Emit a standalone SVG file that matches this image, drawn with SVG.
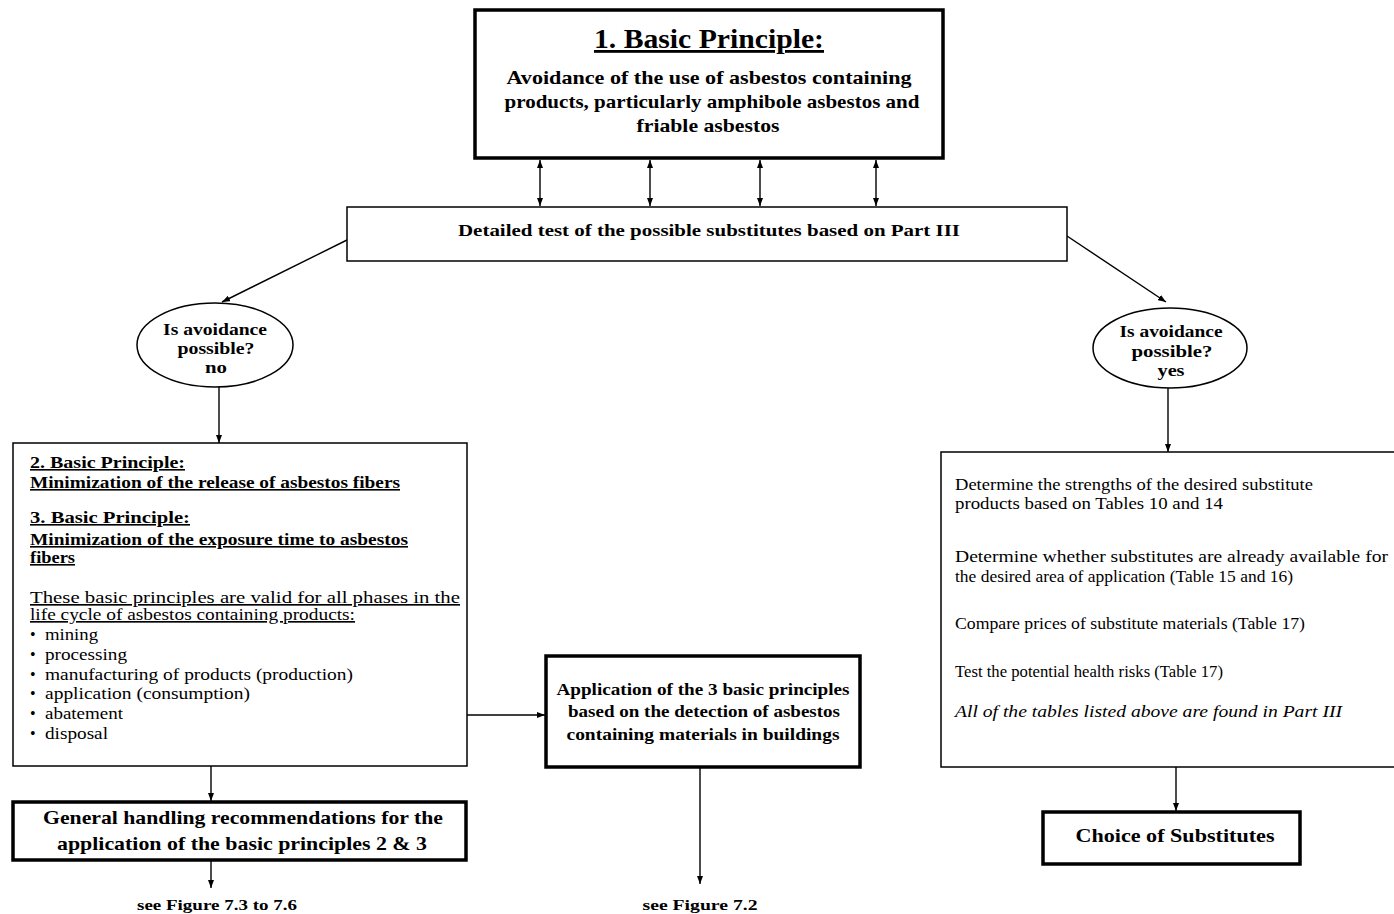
<svg xmlns="http://www.w3.org/2000/svg" width="1394" height="914" viewBox="0 0 1394 914">
<style>
text{font-family:"Liberation Serif","Times New Roman",serif;fill:#000}
.b{font-weight:bold}
.c{text-anchor:middle}
.u{text-decoration:underline}
.i{font-style:italic}
.thin{fill:#fff;stroke:#000;stroke-width:1.5}
.thick{fill:#fff;stroke:#000;stroke-width:3.5}
.ln{fill:none;stroke:#000;stroke-width:1.4}
</style>
<defs>
<marker id="ah" viewBox="0 0 8 6" refX="8" refY="3" markerWidth="8" markerHeight="6" markerUnits="userSpaceOnUse" orient="auto-start-reverse">
<path d="M0,0 L8,3 L0,6 z" fill="#000"/>
</marker>
</defs>
<rect width="1394" height="914" fill="#fff"/>

<g id="connectors">
<line class="ln" x1="540" y1="160" x2="540" y2="206" marker-start="url(#ah)" marker-end="url(#ah)"/>
<line class="ln" x1="650" y1="160" x2="650" y2="206" marker-start="url(#ah)" marker-end="url(#ah)"/>
<line class="ln" x1="760" y1="160" x2="760" y2="206" marker-start="url(#ah)" marker-end="url(#ah)"/>
<line class="ln" x1="876" y1="160" x2="876" y2="206" marker-start="url(#ah)" marker-end="url(#ah)"/>
<line class="ln" x1="347" y1="240" x2="222" y2="302" marker-end="url(#ah)"/>
<line class="ln" x1="1067" y1="236" x2="1166" y2="302" marker-end="url(#ah)"/>
<line class="ln" x1="219" y1="387" x2="219" y2="443" marker-end="url(#ah)"/>
<line class="ln" x1="1168" y1="388" x2="1168" y2="452" marker-end="url(#ah)"/>
<line class="ln" x1="467" y1="715" x2="545" y2="715" marker-end="url(#ah)"/>
<line class="ln" x1="211" y1="766" x2="211" y2="801" marker-end="url(#ah)"/>
<line class="ln" x1="211" y1="861" x2="211" y2="888" marker-end="url(#ah)"/>
<line class="ln" x1="700" y1="768" x2="700" y2="884" marker-end="url(#ah)"/>
<line class="ln" x1="1176" y1="767" x2="1176" y2="811" marker-end="url(#ah)"/>
</g>

<g id="principle1">
<rect class="thick" x="475" y="10" width="468" height="148"/>
<text class="b c u" x="709" y="48" font-size="28" textLength="230" lengthAdjust="spacingAndGlyphs">1. Basic Principle:</text>
<text class="b c" x="709" y="84" font-size="19" textLength="405" lengthAdjust="spacingAndGlyphs">Avoidance of the use of asbestos containing</text>
<text class="b c" x="712" y="108" font-size="19" textLength="415" lengthAdjust="spacingAndGlyphs">products, particularly amphibole asbestos and</text>
<text class="b c" x="708" y="132" font-size="19" textLength="143" lengthAdjust="spacingAndGlyphs">friable asbestos</text>
</g>

<g id="detailed-test">
<rect class="thin" x="347" y="207" width="720" height="54"/>
<text class="b c" x="709" y="236" font-size="16" textLength="502" lengthAdjust="spacingAndGlyphs">Detailed test of the possible substitutes based on Part III</text>
</g>

<g id="decision-no">
<ellipse class="thin" cx="215" cy="345" rx="78" ry="42"/>
<text class="b c" x="215" y="335" font-size="16" textLength="104" lengthAdjust="spacingAndGlyphs">Is avoidance</text>
<text class="b c" x="216" y="354" font-size="16" textLength="77" lengthAdjust="spacingAndGlyphs">possible?</text>
<text class="b c" x="216" y="373" font-size="16" textLength="22" lengthAdjust="spacingAndGlyphs">no</text>
</g>

<g id="decision-yes">
<ellipse class="thin" cx="1170" cy="348" rx="77" ry="40"/>
<text class="b c" x="1171" y="337" font-size="16" textLength="103" lengthAdjust="spacingAndGlyphs">Is avoidance</text>
<text class="b c" x="1172" y="357" font-size="16" textLength="81" lengthAdjust="spacingAndGlyphs">possible?</text>
<text class="b c" x="1171" y="376" font-size="16" textLength="27" lengthAdjust="spacingAndGlyphs">yes</text>
</g>

<g id="principles-2-3">
<rect class="thin" x="13" y="443" width="454" height="323"/>
<text class="b u" x="30" y="468" font-size="16" textLength="155" lengthAdjust="spacingAndGlyphs">2.  Basic Principle:</text>
<text class="b u" x="30" y="488" font-size="16" textLength="370" lengthAdjust="spacingAndGlyphs">Minimization of the release of asbestos fibers</text>
<text class="b u" x="30" y="523" font-size="16" textLength="160" lengthAdjust="spacingAndGlyphs">3.  Basic Principle: </text>
<text class="b u" x="30" y="545" font-size="16" textLength="378" lengthAdjust="spacingAndGlyphs">Minimization of the exposure time to asbestos</text>
<text class="b u" x="30" y="563" font-size="16" textLength="45" lengthAdjust="spacingAndGlyphs">fibers</text>
<text class="u" x="30" y="603" font-size="16.5" textLength="430" lengthAdjust="spacingAndGlyphs">These basic principles are valid for all phases in the</text>
<text class="u" x="30" y="620" font-size="16.5" textLength="325" lengthAdjust="spacingAndGlyphs">life cycle of asbestos containing products:</text>
<text x="30" y="640" font-size="16">•</text><text x="45" y="640" font-size="16.5" textLength="53" lengthAdjust="spacingAndGlyphs">mining</text>
<text x="30" y="660" font-size="16">•</text><text x="45" y="660" font-size="16.5" textLength="82" lengthAdjust="spacingAndGlyphs">processing</text>
<text x="30" y="680" font-size="16">•</text><text x="45" y="680" font-size="16.5" textLength="308" lengthAdjust="spacingAndGlyphs">manufacturing of products (production)</text>
<text x="30" y="699" font-size="16">•</text><text x="45" y="699" font-size="16.5" textLength="205" lengthAdjust="spacingAndGlyphs">application (consumption)</text>
<text x="30" y="719" font-size="16">•</text><text x="45" y="719" font-size="16.5" textLength="78" lengthAdjust="spacingAndGlyphs">abatement</text>
<text x="30" y="739" font-size="16">•</text><text x="45" y="739" font-size="16.5" textLength="63" lengthAdjust="spacingAndGlyphs">disposal</text>
</g>

<g id="application">
<rect class="thick" x="546" y="656" width="314" height="111"/>
<text class="b c" x="703" y="695" font-size="16.5" textLength="293" lengthAdjust="spacingAndGlyphs">Application of the 3 basic principles</text>
<text class="b c" x="704" y="717" font-size="16.5" textLength="272" lengthAdjust="spacingAndGlyphs">based on the detection of asbestos</text>
<text class="b c" x="703" y="740" font-size="16.5" textLength="273" lengthAdjust="spacingAndGlyphs">containing materials in buildings</text>
</g>

<g id="general-handling">
<rect class="thick" x="13" y="802" width="453" height="58"/>
<text class="b c" x="243" y="824" font-size="19" textLength="400" lengthAdjust="spacingAndGlyphs">General handling recommendations for the</text>
<text class="b c" x="242" y="850" font-size="19" textLength="370" lengthAdjust="spacingAndGlyphs">application of the basic principles 2 &amp; 3</text>
</g>

<g id="ref-7-3">
<text class="b c" x="217" y="910" font-size="15" textLength="160" lengthAdjust="spacingAndGlyphs">see Figure 7.3 to 7.6</text>
</g>

<g id="ref-7-2">
<text class="b c" x="700" y="910" font-size="15" textLength="115" lengthAdjust="spacingAndGlyphs">see Figure 7.2</text>
</g>

<g id="substitute-checks">
<rect class="thin" x="941" y="452" width="460" height="315"/>
<text x="955" y="490" font-size="16.5" textLength="358" lengthAdjust="spacingAndGlyphs">Determine the strengths of the desired substitute</text>
<text x="955" y="509" font-size="16.5" textLength="268" lengthAdjust="spacingAndGlyphs">products based on Tables 10 and 14</text>
<text x="955" y="562" font-size="16.5" textLength="433" lengthAdjust="spacingAndGlyphs">Determine whether substitutes are already available for</text>
<text x="955" y="582" font-size="16.5" textLength="338" lengthAdjust="spacingAndGlyphs">the desired area of application (Table 15 and 16)</text>
<text x="955" y="629" font-size="16.5" textLength="350" lengthAdjust="spacingAndGlyphs">Compare prices of substitute materials (Table 17)</text>
<text x="955" y="677" font-size="16.5" textLength="268" lengthAdjust="spacingAndGlyphs">Test the potential health risks (Table 17)</text>
<text class="i" x="955" y="717" font-size="16.5" textLength="387" lengthAdjust="spacingAndGlyphs">All of the tables listed above are found in Part III</text>
</g>

<g id="choice">
<rect class="thick" x="1043" y="812" width="257" height="52"/>
<text class="b c" x="1175" y="842" font-size="18" textLength="199" lengthAdjust="spacingAndGlyphs">Choice of Substitutes</text>
</g>
</svg>
